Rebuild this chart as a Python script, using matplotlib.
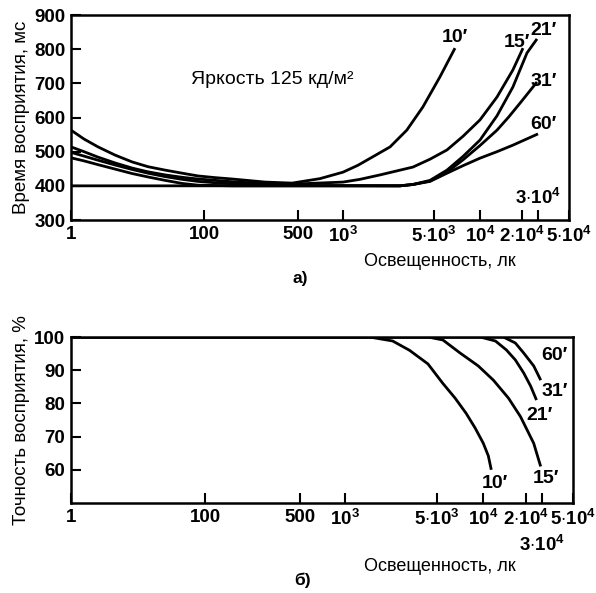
import numpy as np
import matplotlib
matplotlib.use("Agg")
import matplotlib.pyplot as plt

plt.rcParams['font.family'] = ['Liberation Sans', 'DejaVu Sans']
plt.rcParams['mathtext.fontset'] = 'custom'
plt.rcParams['mathtext.rm'] = 'Liberation Sans'
plt.rcParams['mathtext.bf'] = 'Liberation Sans:bold'

# illuminance axis: tick values and their labels
x_ticks = [1, 100, 500, 1e3, 5e3, 1e4, 2e4, 3e4, 5e4]
x_tick_labels = ["1", "100", "500", r"$\mathbf{10^3}$", r"$\mathbf{5{\cdot}10^3}$",
                 r"$\mathbf{10^4}$", r"$\mathbf{2{\cdot}10^4}$", "", r"$\mathbf{5{\cdot}10^4}$"]
label_3e4 = r"$\mathbf{3{\cdot}10^4}$"

# a) perception time, ms
t10_lux = [1, 1.57, 2.55, 4.6, 8.3, 14.4, 26, 47, 81, 121, 162, 285, 452,
           700, 1000, 1300, 1730, 2300, 3090, 4110, 5470, 6860]
t10_ms = [563, 537, 514, 490, 470, 456, 446, 437, 429, 424, 420, 411, 408,
          421, 440, 460, 487, 514, 563, 631, 719, 803]
t15_lux = [1, 1.57, 2.55, 4.6, 8.3, 14.4, 26, 47, 81, 121, 162, 285, 452,
           1000, 1350, 1925, 3450, 4660, 6080, 7740, 10000, 13240, 17200, 20500]
t15_ms = [514, 500, 484, 467, 452, 441, 432, 425, 420, 416, 412, 407, 405,
          411, 419, 432, 455, 478, 505, 545, 593, 660, 739, 803]
t21_lux = [1, 1.57, 2.55, 4.6, 8.3, 14.4, 26, 47, 81, 121, 162, 285, 452,
           2740, 3450, 4660, 6080, 7740, 10000, 13240, 17200, 22700, 29250]
t21_ms = [498, 487, 475, 461, 448, 437, 427, 419, 413, 409, 406, 403, 401,
          400, 404, 416, 446, 486, 534, 605, 689, 789, 830]
t31_lux = [1, 1.57, 2.55, 4.6, 8.3, 14.4, 26, 47, 81, 121, 162,
           2740, 3450, 4660, 6080, 7740, 10000, 13240, 16100, 19360, 29250]
t31_ms = [482, 473, 462, 449, 436, 426, 416, 407, 402, 401, 400,
          400, 404, 414, 440, 476, 518, 563, 602, 642, 704]
t60_lux = [1, 2740, 3450, 4660, 6080, 7740, 10000, 13240, 17200, 30000]
t60_ms = [400, 400, 404, 413, 437, 459, 481, 500, 519, 552]

# б) perception accuracy, %
a10_lux = [1, 1530, 2300, 3090, 4270, 5470, 6560, 7740, 8850, 10000, 10860, 11400]
a10_pct = [100, 100, 98.8, 96, 91.9, 86, 81.6, 77, 72.6, 68, 64.2, 60]
a15_lux = [1, 4270, 5470, 7060, 9270, 11800, 15100, 18400, 24500, 29200]
a15_pct = [100, 100, 99.1, 95.2, 91.3, 87, 81.6, 76, 68, 61]
a21_lux = [1, 9550, 12200, 14600, 16900, 19360, 22700, 26300]
a21_pct = [100, 100, 98.8, 96.1, 93.1, 89.2, 85.2, 81]
a31_lux = [1, 13900, 16900, 19360, 24500, 29250]
a31_pct = [100, 100, 98.2, 95.2, 91.3, 87]

# hand-drawn scale: log10 of tick value -> fraction of axis width
SCALE_LOG = np.log10(x_ticks)
SCALE_POS = np.array([0, 133, 227, 272, 363, 409, 451, 467, 498]) / 498.0


def fwd(x):
    x = np.clip(np.asarray(x, dtype=float), 1e-3, None)
    return np.interp(np.log10(x), SCALE_LOG, SCALE_POS, left=-1, right=2)


def inv(p):
    return 10 ** np.interp(p, SCALE_POS, SCALE_LOG)


LW = 2.0
TICK_FS = 13.5
fig = plt.figure(figsize=(5.96, 5.93), dpi=100)
ax1 = fig.add_axes([0.1191, 0.629, 0.8356, 0.3457])
ax2 = fig.add_axes([0.1191, 0.1518, 0.8423, 0.2799])

for ax in (ax1, ax2):
    ax.set_xscale('function', functions=(fwd, inv))
    ax.set_xlim(1, 5e4)
    ax.set_xticks(x_ticks)
    ax.set_xticklabels(x_tick_labels)
    ax.minorticks_off()
    ax.tick_params(direction='in', length=7, width=1.5, labelsize=TICK_FS, pad=4)
    for lab in ax.get_xticklabels() + ax.get_yticklabels():
        lab.set_fontweight('bold')
    for sp in ax.spines.values():
        sp.set_linewidth(1.8)

# panel a
for xs, ys in [(t10_lux, t10_ms), (t15_lux, t15_ms), (t21_lux, t21_ms),
               (t31_lux, t31_ms), (t60_lux, t60_ms)]:
    ax1.plot(xs, ys, color='black', lw=LW, solid_capstyle='butt', solid_joinstyle='round')
ax1.set_ylim(300, 900)
ax1.set_yticks(range(300, 1000, 100))
ax1.set_ylabel("Время восприятия, мс", fontsize=13.5, labelpad=3)
ax1.set_xlabel("Освещенность, лк", fontsize=13)
ax1.xaxis.set_label_coords(0.74, -0.16)
ax1.text(3e4, 0.06, label_3e4, transform=ax1.get_xaxis_transform(),
         ha='center', va='bottom', fontsize=TICK_FS)
ax1.text(0.24, 0.665, "Яркость 125 кд/м²", transform=ax1.transAxes, fontsize=14)
for lx, ly, s in [(6900, 810, "10′"), (18500, 795, "15′"), (33000, 830, "21′"),
                  (33000, 680, "31′"), (33000, 555, "60′")]:
    ax1.text(lx, ly, s, ha='center', va='bottom', fontsize=14, fontweight='bold')
fig.text(0.503, 0.53, "а)", ha='center', va='center', fontsize=12.5, fontweight='bold')

# panel b
for xs, ys in [(a10_lux, a10_pct), (a15_lux, a15_pct), (a21_lux, a21_pct),
               (a31_lux, a31_pct)]:
    ax2.plot(xs, ys, color='black', lw=LW, solid_capstyle='butt', solid_joinstyle='round')
ax2.set_ylim(50, 100)
ax2.set_yticks([60, 70, 80, 90, 100])
ax2.set_ylabel("Точность восприятия, %", fontsize=13.5, labelpad=3)
ax2.set_xlabel("Освещенность, лк", fontsize=13)
ax2.xaxis.set_label_coords(0.735, -0.33)
ax2.text(3e4, -0.19, label_3e4, transform=ax2.get_xaxis_transform(),
         ha='center', va='top', fontsize=TICK_FS)
for lx, ly, s in [(37000, 94.5, "60′"), (37000, 83.5, "31′"), (28500, 76.5, "21′"),
                  (32000, 57.5, "15′"), (12000, 56, "10′")]:
    ax2.text(lx, ly, s, ha='center', va='center', fontsize=14, fontweight='bold')
fig.text(0.508, 0.022, "б)", ha='center', va='center', fontsize=12.5, fontweight='bold')

fig.savefig("out.png", dpi=100)
